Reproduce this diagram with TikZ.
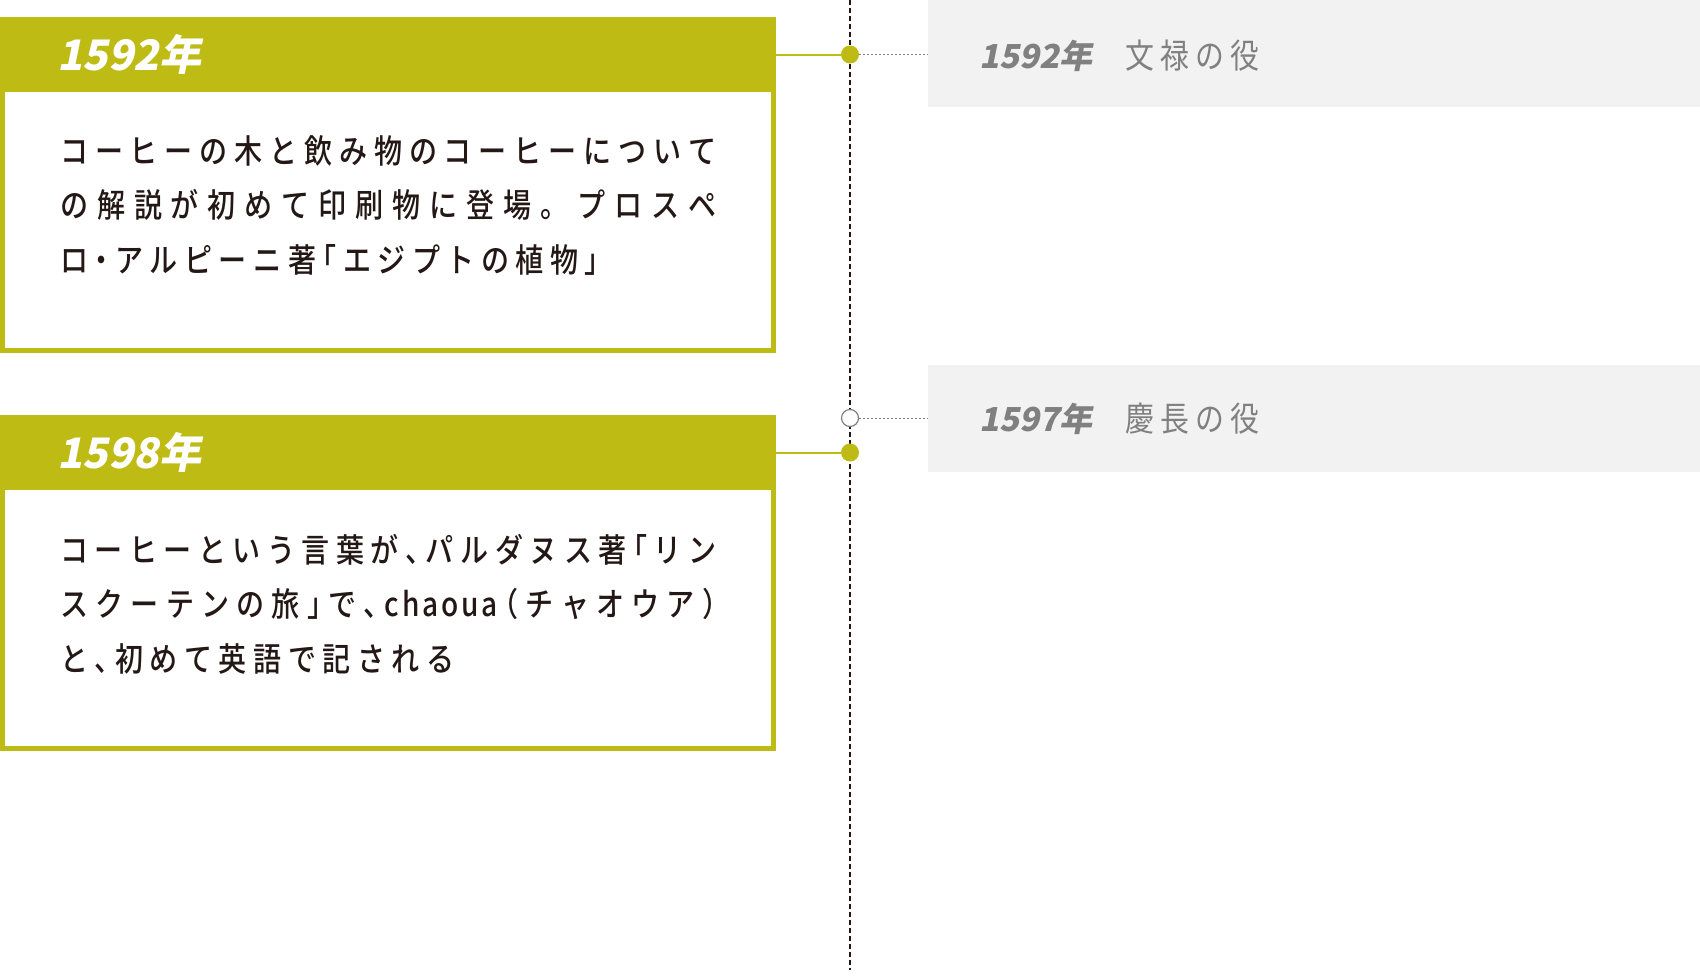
\documentclass[tikz,border=0pt]{standalone}
\usepackage{fontspec}
\setmainfont{Noto Sans CJK JP}
\newfontfamily\jpfont{Noto Sans CJK JP Medium}[FakeStretch=0.85]
\newfontfamily\jphalf{Noto Sans CJK JP Medium}[FakeStretch=0.85,RawFeature=+halt]
\newfontfamily\evfont{Noto Sans CJK JP}[FakeStretch=0.85]
\newfontfamily\yearfont{Noto Sans CJK JP}[FakeSlant=0.2]
\definecolor{olivebar}{RGB}{190,187,20}
\definecolor{bandgray}{RGB}{242,242,242}
\definecolor{labelgray}{RGB}{128,128,128}
\definecolor{ink}{RGB}{35,24,21}
% letter spacing: glue after every character
\ExplSyntaxOn
\NewDocumentCommand \tracked { O{6.5pt} m }
  {
    \tl_map_inline:nn {#2} { {##1} \skip_horizontal:n { #1 plus 3pt minus 1pt } }
    \unskip
  }
\ExplSyntaxOff
\tolerance=9999

\begin{document}
\begin{tikzpicture}[x=1pt,y=-1pt,
  frame/.style={draw=olivebar,line width=5pt,fill=white,anchor=north west,minimum width=771pt,minimum height=331pt,inner sep=0pt,outer sep=0pt},
  head/.style={fill=olivebar,anchor=north west,minimum width=776pt,minimum height=75pt,inner sep=0pt,outer sep=0pt},
  year/.style={anchor=west,text=white,inner sep=0pt,font=\yearfont\bfseries\fontsize{42}{42}\selectfont},
  body/.style={anchor=base west,text=ink,text width=656pt,align=justify,inner sep=0pt,font=\jpfont\fontsize{33}{54.5}\selectfont},
  band/.style={fill=bandgray,anchor=north west,minimum width=772pt,minimum height=107pt,inner sep=0pt,outer sep=0pt},
  event/.style={anchor=west,text=labelgray,inner sep=0pt,font=\evfont\fontsize{34}{34}\selectfont},
  dot/.style={circle,fill=olivebar,minimum size=18pt,inner sep=0pt},
  ring/.style={circle,draw=labelgray,fill=white,line width=1.2pt,minimum size=17pt,inner sep=0pt},
  link/.style={olivebar,line width=2pt},
  leader/.style={labelgray,line width=1pt,dash pattern=on 2pt off 2pt},
  spine/.style={ink,line width=1.5pt,dash pattern=on 4.5pt off 3.5pt}]
\useasboundingbox (0,0) rectangle (1700,975);

% right side: events
\node[band] (band1) at (928,0) {};
\node[band] (band2) at (928,365) {};
\node[event] (ev1) at (979,56) {{\yearfont\bfseries\fontsize{33}{33}\selectfont 1592年}\hspace{33pt}\tracked[6pt]{文禄の役}};
\node[event] (ev2) at (979,419) {{\yearfont\bfseries\fontsize{33}{33}\selectfont 1597年}\hspace{33pt}\tracked[6pt]{慶長の役}};

% time line
\coordinate (top) at (850,0);
\coordinate (bottom) at (850,970);
\draw[spine] (top) -- (bottom);

% left side: boxes
\node[frame] (box1) at (2.5,19.5) {};
\node[head] (head1) at (0,17) {};
\node[year] (y1) at (57,54.5) {1592年};
\node[body] (txt1) at (60,163) {\tracked{コーヒーの木と飲み物のコーヒーについて\linebreak
の解説が初めて印刷物に登場。プロスペ\linebreak
ロ{\jphalf ・}アルピーニ著{\jphalf 「}エジプトの植物{\jphalf 」}}};

\node[frame] (box2) at (2.5,417.5) {};
\node[head] (head2) at (0,415) {};
\node[year] (y2) at (57,452.5) {1598年};
\node[body] (txt2) at (60,562) {\tracked{コーヒーという言葉が{\jphalf 、}パルダヌス著{\jphalf 「}リン\linebreak
スクーテンの旅{\jphalf 」}で{\jphalf 、}{\tracked[2pt]{chaoua}}{\jphalf （}チャオウア{\jphalf ）}\linebreak
と{\jphalf 、}初めて英語で記される}};

% dots and connectors
\node[dot] (d1) at (850,54.5) {};
\node[ring] (r1) at (850,418) {};
\node[dot] (d2) at (850,452.5) {};
\draw[link] (head1.east) -- (d1);
\draw[link] (head2.east) -- (d2);
\draw[leader] (d1.east) -- (band1.west |- d1);
\draw[leader] (r1.east) -- (band2.west |- r1);
\end{tikzpicture}
\end{document}
